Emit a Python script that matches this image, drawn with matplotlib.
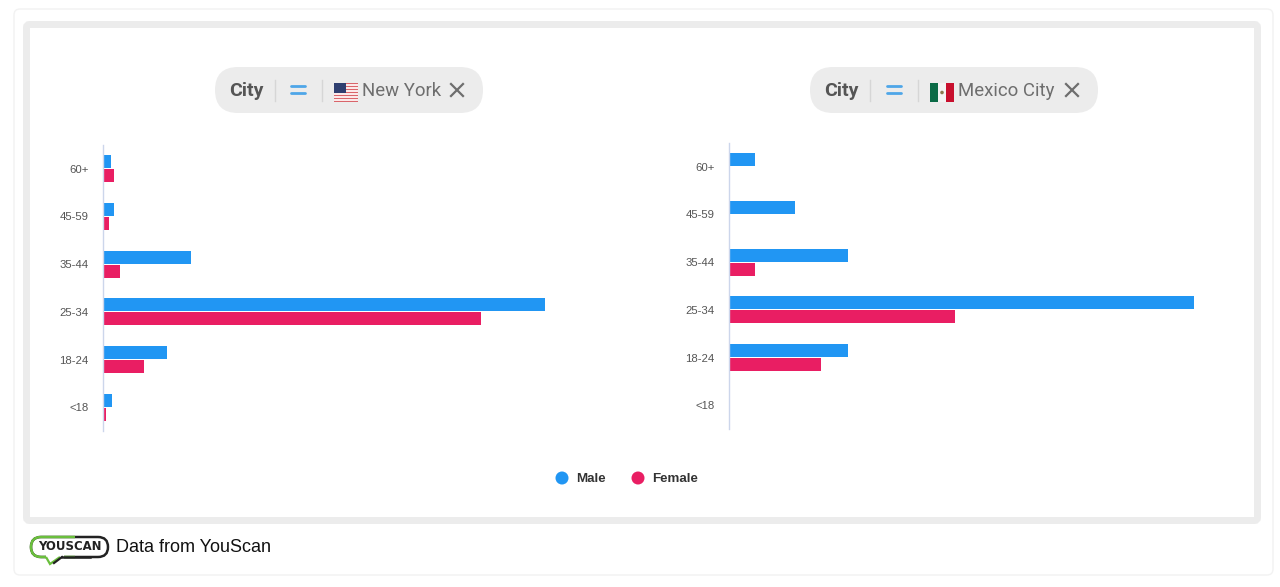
import numpy as np
import matplotlib
matplotlib.use("Agg")
import matplotlib.pyplot as plt
from matplotlib.patches import FancyBboxPatch, Rectangle, Polygon, Circle

plt.rcParams['font.family'] = ['Liberation Sans', 'DejaVu Sans']

# values, no scale is shown so the unit is arbitrary
ages = ["60+", "45-59", "35-44", "25-34", "18-24", "<18"]
ny_male = [8, 11, 87.5, 442, 64, 9]
ny_female = [11, 6, 17, 378, 41, 2.5]
mx_male = [26, 66, 119, 465, 119, 0]
mx_female = [0, 0, 26, 226, 92, 0]

BLUE = "#2196f3"
PINK = "#e91e63"
W, H = 1280, 587

fig = plt.figure(figsize=(12.8, 5.87), dpi=100, facecolor="white")

# background layer in pixel coordinates
bg = fig.add_axes([0, 0, 1, 1], zorder=0)
bg.set_xlim(0, W)
bg.set_ylim(H, 0)
bg.axis("off")


def round_box(ax, x0, y0, x1, y1, r, **kw):
    box = FancyBboxPatch((x0 + r, y0 + r), x1 - x0 - 2 * r, y1 - y0 - 2 * r,
                         boxstyle="round,pad=%f,rounding_size=%f" % (r, r), **kw)
    ax.add_patch(box)
    return box


round_box(bg, 14, 9, 1273, 575, 6, fc="white", ec="#f2f2f2", lw=1)
round_box(bg, 26.5, 24.5, 1257.5, 520.5, 3, fc="white", ec="#ececec", lw=5)


def pill(x0, x1, s1, s2, eq_x, flag_x, city):
    round_box(bg, x0, 67, x1, 113, 23, fc="#ececec", ec="none")
    bg.text(x0 + 14, 91, "City", family="Roboto", fontsize=14, weight="bold",
            color="#555555", va="center")
    bg.plot([s1, s1], [80, 101], color="#d6d6d6", lw=1)
    bg.plot([s2, s2], [80, 101], color="#d6d6d6", lw=1)
    bg.plot([eq_x, eq_x + 14], [85.5, 85.5], color="#4ea6e8", lw=2, solid_capstyle="round")
    bg.plot([eq_x, eq_x + 14], [93, 93], color="#4ea6e8", lw=2, solid_capstyle="round")
    bg.text(flag_x + 28.5, 91.5, city, family="Roboto", fontsize=13.4, color="#6e6e6e", va="center")


def us_flag(x, y, w=24, h=19):
    n = 13
    for i in range(n):
        bg.add_patch(Rectangle((x, y + i * h / n), w, h / n,
                               fc="#d9656b" if i % 2 == 0 else "#fbe9e9", ec="none"))
    bg.add_patch(Rectangle((x, y), w * 0.48, h * 0.52, fc="#2f3f70", ec="none"))


def mx_flag(x, y, w=24, h=19):
    bg.add_patch(Rectangle((x, y), w / 3, h, fc="#0b6b47", ec="none"))
    bg.add_patch(Rectangle((x + w / 3, y), w / 3, h, fc="#f4f4f4", ec="none"))
    bg.add_patch(Rectangle((x + 2 * w / 3, y), w / 3, h, fc="#c8102e", ec="none"))
    bg.add_patch(Circle((x + w / 2, y + h / 2), 1.8, fc="#8a7a50", ec="none"))


def close_x(cx):
    bg.plot([cx - 6, cx + 6], [84, 96], color="#6e6e6e", lw=1.6)
    bg.plot([cx - 6, cx + 6], [96, 84], color="#6e6e6e", lw=1.6)


pill(215, 483, 275, 322, 291, 334, "New York")
us_flag(334, 83)
close_x(457)
pill(810, 1098, 870, 918, 887, 930, "Mexico City")
mx_flag(930, 83)
close_x(1072)


def panel(x0, y0, y1, male, female):
    # 500 data units on 500 px, one unit per pixel of bar
    ax = fig.add_axes([x0 / W, 1 - y1 / H, 500 / W, (y1 - y0) / H], zorder=2)
    ax.patch.set_alpha(0)
    y = np.arange(len(ages))
    ax.barh(y - 0.146, male, height=0.27, color=BLUE)
    ax.barh(y + 0.146, female, height=0.27, color=PINK)
    ax.set_xlim(0, 500)
    ax.set_ylim(len(ages) - 0.5, -0.5)
    ax.set_yticks(y, ages)
    ax.tick_params(axis="y", length=0, pad=10.5, labelsize=8.2, labelcolor="#555555")
    ax.set_xticks([])
    for side in ["top", "right", "bottom"]:
        ax.spines[side].set_visible(False)
    ax.spines["left"].set_color("#ccd6eb")
    ax.spines["left"].set_linewidth(1)
    return ax


panel(103, 145, 431, ny_male, ny_female)
panel(729, 143, 429, mx_male, mx_female)

# legend
bg.add_patch(Circle((562, 478), 6.5, fc=BLUE, ec="none"))
bg.text(576, 478.5, "Male", fontsize=9.6, weight="bold", color="#333333", va="center")
bg.add_patch(Circle((638, 478), 6.5, fc=PINK, ec="none"))
bg.text(652.5, 478.5, "Female", fontsize=9.6, weight="bold", color="#333333", va="center")

# footer logo
round_box(bg, 31, 537, 108, 557, 10, fc="none", ec="#222222", lw=1.8)
green = round_box(bg, 31, 537, 108, 557, 10, fc="none", ec="#6abf3c", lw=1.8)
green.set_clip_path(Rectangle((25, 530), 50, 32, transform=bg.transData))
bg.add_patch(Rectangle((46, 555), 18, 4, fc="white", ec="none", zorder=3))
bg.add_patch(Polygon([[46, 557], [50, 564], [60, 557]], closed=False, fc="none",
                     ec="#6abf3c", lw=1.6, zorder=4))
bg.plot([54, 62], [563, 557], color="#222222", lw=1.6, zorder=4)
bg.plot([62, 90], [557, 557], color="#222222", lw=1.8, zorder=4)
bg.text(69.5, 547, "YOUSCAN", fontsize=9.4, weight="bold", color="#222222",
        family="DejaVu Sans", ha="center", va="center", stretch="condensed")
bg.text(115.5, 547, "Data from YouScan", fontsize=13, color="#111111", va="center")

fig.savefig("out.png", dpi=100)
